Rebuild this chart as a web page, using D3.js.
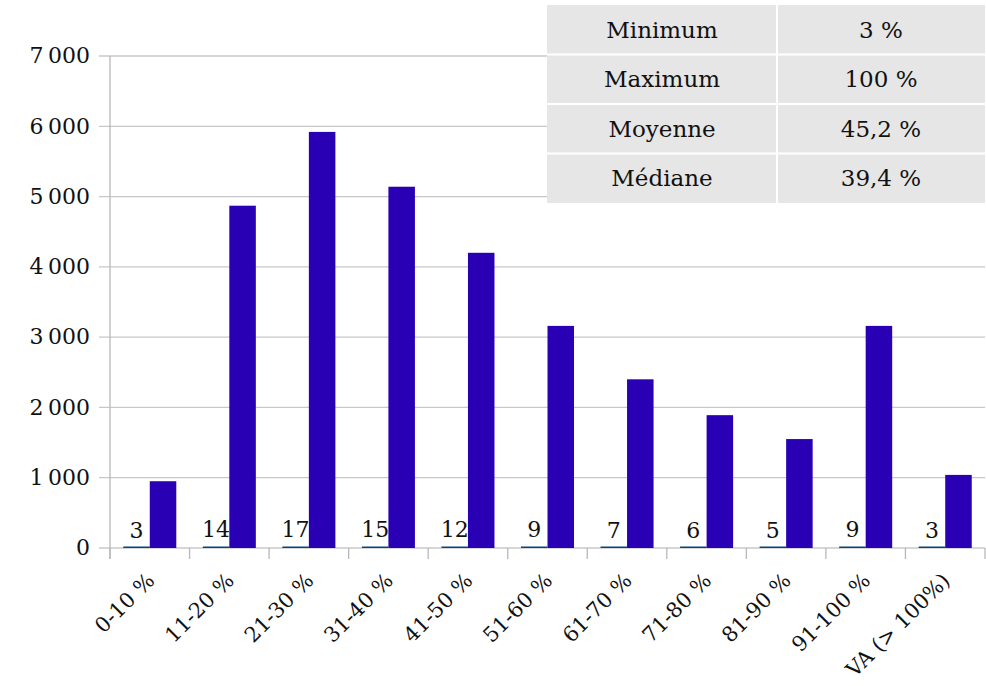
<!DOCTYPE html>
<html lang="fr">
<head>
<meta charset="UTF-8">
<title>Répartition</title>
<script src="https://cdn.jsdelivr.net/npm/d3@7"></script>
<style>
    body { margin: 0; background: #fff; }
    text { font-family: "DejaVu Serif", serif; fill: #111; }
    .grid line { stroke: #c8c8c8; stroke-width: 1.3; }
</style>
</head>
<body>
<script>
const categories = ["0-10 %", "11-20 %", "21-30 %", "31-40 %", "41-50 %", "51-60 %",
                    "61-70 %", "71-80 %", "81-90 %", "91-100 %", "VA (> 100%)"];
const smallValues = [3, 14, 17, 15, 12, 9, 7, 6, 5, 9, 3];
const bigValues = [950, 4870, 5920, 5140, 4200, 3160, 2400, 1890, 1550, 3160, 1040];
const yTicks = [0, 1000, 2000, 3000, 4000, 5000, 6000, 7000];
const statLabels = ["Minimum", "Maximum", "Moyenne", "Médiane"];
const statValues = ["3 %", "100 %", "45,2 %", "39,4 %"];

const w = 986, h = 686;
const plotLeft = 110, plotRight = 985, plotTop = 56, plotBottom = 548;

const svg = d3.select("body").append("svg")
    .attr("width", w)
    .attr("height", h);

const x = d3.scaleBand().domain(categories).range([plotLeft, plotRight]).padding(0);
const inner = d3.scaleBand().domain(["small", "big"]).range([0, x.bandwidth()])
    .paddingInner(0).paddingOuter(0.5);
const y = d3.scaleLinear().domain([0, 7000]).range([plotBottom, plotTop]);
const fmt = d => d3.format(",")(d).replace(/,/g, "\u202f");

// gridlines
svg.append("g").attr("class", "grid")
    .selectAll("line").data(yTicks).enter().append("line")
    .attr("x1", plotLeft - 11).attr("x2", plotRight)
    .attr("y1", d => y(d)).attr("y2", d => y(d));

// y labels
svg.append("g").selectAll("text").data(yTicks).enter().append("text")
    .attr("x", plotLeft - 20).attr("y", d => y(d))
    .attr("dy", "0.33em")
    .attr("text-anchor", "end")
    .style("font-size", "22px")
    .text(d => d === 0 ? "0" : fmt(d));

// axes lines
svg.append("line")
    .attr("x1", plotLeft).attr("x2", plotLeft).attr("y1", plotTop).attr("y2", plotBottom + 11)
    .attr("stroke", "#b8b8b8").attr("stroke-width", 1.3);
svg.append("g").selectAll("line").data(d3.range(categories.length + 1)).enter().append("line")
    .attr("x1", i => plotLeft + i * x.step()).attr("x2", i => plotLeft + i * x.step())
    .attr("y1", plotBottom).attr("y2", plotBottom + 11)
    .attr("stroke", "#b8b8b8").attr("stroke-width", 1.3);

// bars
const groups = svg.append("g").selectAll("g").data(categories).enter().append("g")
    .attr("transform", d => "translate(" + x(d) + ",0)");

groups.append("rect")
    .attr("x", inner("small"))
    .attr("width", inner.bandwidth())
    .attr("y", (d, i) => Math.min(y(smallValues[i]), plotBottom - 1.5))
    .attr("height", (d, i) => Math.max(plotBottom - y(smallValues[i]), 1.5))
    .attr("fill", "#004586");

groups.append("rect")
    .attr("x", inner("big"))
    .attr("width", inner.bandwidth())
    .attr("y", (d, i) => y(bigValues[i]))
    .attr("height", (d, i) => plotBottom - y(bigValues[i]))
    .attr("fill", "#2a00b4");

groups.append("text")
    .attr("x", inner("small") + inner.bandwidth() / 2)
    .attr("y", (d, i) => y(smallValues[i]) - 10)
    .attr("text-anchor", "middle")
    .style("font-size", "22px")
    .text((d, i) => smallValues[i]);

// x labels
svg.append("g").selectAll("text").data(categories).enter().append("text")
    .attr("transform", d => "translate(" + (x(d) + x.bandwidth() / 2 + 6) + "," + (plotBottom + 34) + ") rotate(-45)")
    .attr("text-anchor", "end")
    .style("font-size", "21px")
    .text(d => d);

// stats table
const tx = 547, tw = 438, ty = 5, rowH = 49.5, col = 777;
const table = svg.append("g");
table.append("rect")
    .attr("x", tx).attr("y", ty).attr("width", tw).attr("height", rowH * statLabels.length)
    .attr("fill", "#e6e6e6");
const rows = table.selectAll("g").data(statLabels).enter().append("g")
    .attr("transform", (d, i) => "translate(0," + (ty + i * rowH) + ")");
rows.filter((d, i) => i > 0).append("line")
    .attr("x1", tx).attr("x2", tx + tw).attr("y1", 0).attr("y2", 0)
    .attr("stroke", "#fff").attr("stroke-width", 2);
rows.append("text")
    .attr("x", (tx + col) / 2).attr("y", rowH / 2).attr("dy", "0.35em")
    .attr("text-anchor", "middle")
    .style("font-size", "23px")
    .text(d => d);
rows.append("text")
    .attr("x", (col + tx + tw) / 2).attr("y", rowH / 2).attr("dy", "0.35em")
    .attr("text-anchor", "middle")
    .style("font-size", "23px")
    .text((d, i) => statValues[i]);
table.append("line")
    .attr("x1", col).attr("x2", col).attr("y1", ty).attr("y2", ty + rowH * statLabels.length)
    .attr("stroke", "#fff").attr("stroke-width", 2);
</script>
</body>
</html>
